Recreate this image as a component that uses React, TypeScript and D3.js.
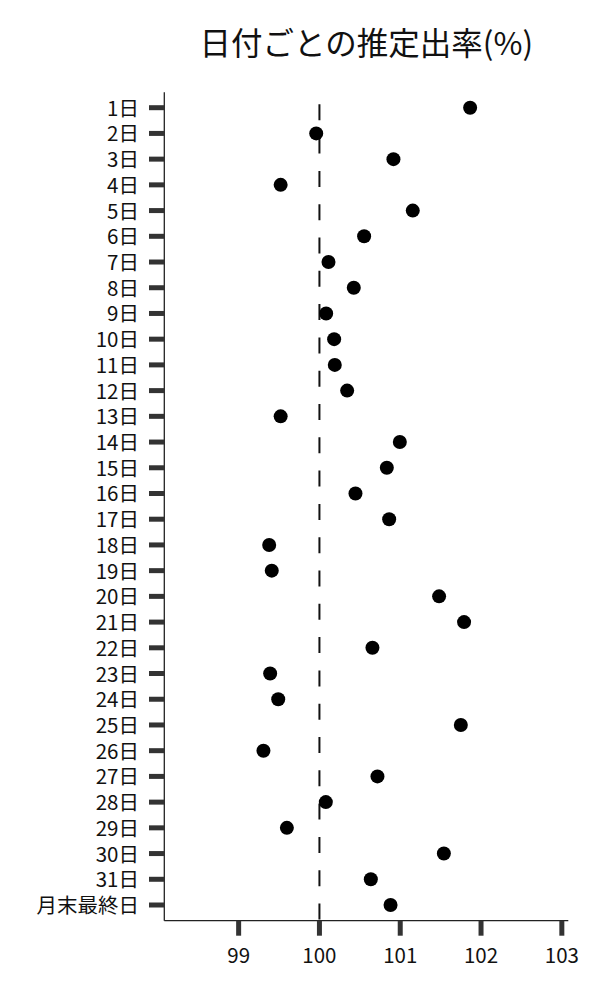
import React from "react";
import * as d3 from "d3";

const title = "日付ごとの推定出率(%)";
const categories = [
  "1日","2日","3日","4日","5日","6日","7日","8日","9日","10日",
  "11日","12日","13日","14日","15日","16日","17日","18日","19日","20日",
  "21日","22日","23日","24日","25日","26日","27日","28日","29日","30日",
  "31日","月末最終日",
];
const values = [
  101.865, 99.96, 100.916, 99.52, 101.155, 100.553, 100.112, 100.425, 100.083, 100.182,
  100.19, 100.343, 99.52, 100.995, 100.834, 100.446, 100.863, 99.378, 99.41, 101.481,
  101.79, 100.656, 99.39, 99.49, 101.75, 99.307, 100.718, 100.079, 99.597, 101.54,
  100.636, 100.88,
];
const xTicks = [99, 100, 101, 102, 103];
const referenceValue = 100;

const FONT = "'Noto Sans CJK JP', 'Noto Sans', sans-serif";

export default function App() {
  const W = 600, H = 1000;
  const left = 164.3, right = 568.3, top = 92.3, bottom = 920.7;
  const x = d3.scaleLinear().domain([98.08, 103.08]).range([left, right]);
  const y = d3.scalePoint<string>().domain(categories).range([107.7, 905]);
  const axisColor = "#222";
  const tickColor = "#333";

  return (
    <svg width={W} height={H} style={{ position: "absolute", left: 0, top: 0, background: "#fff" }} fontFamily={FONT}>
      <text x={(left + right) / 2} y={54.5} textAnchor="middle" fontSize={31.5} fill="#111">{title}</text>

      {/* reference line */}
      <line x1={x(referenceValue)} x2={x(referenceValue)} y1={104.3} y2={bottom} stroke="#111" strokeWidth={2} strokeDasharray="16 17.3" />

      {/* spines */}
      <line x1={left} x2={left} y1={top} y2={bottom} stroke={axisColor} strokeWidth={1.3} />
      <line x1={left} x2={right} y1={bottom} y2={bottom} stroke={axisColor} strokeWidth={1.3} />

      {/* y ticks and labels */}
      {categories.map((c) => (
        <g key={c}>
          <line x1={149} x2={left} y1={y(c)} y2={y(c)} stroke={tickColor} strokeWidth={5} />
          <text x={139} y={y(c)} dy="0.39em" textAnchor="end" fontSize={20.5} fill="#111">{c}</text>
        </g>
      ))}

      {/* x ticks and labels */}
      {xTicks.map((t) => (
        <g key={t}>
          <line x1={x(t)} x2={x(t)} y1={bottom} y2={bottom + 15} stroke={tickColor} strokeWidth={5} />
          <text x={x(t)} y={963} textAnchor="middle" fontSize={20.5} fill="#111">{t}</text>
        </g>
      ))}

      {/* points */}
      {values.map((v, i) => (
        <circle key={categories[i]} cx={x(v)} cy={y(categories[i])} r={7} fill="#000" />
      ))}
    </svg>
  );
}
